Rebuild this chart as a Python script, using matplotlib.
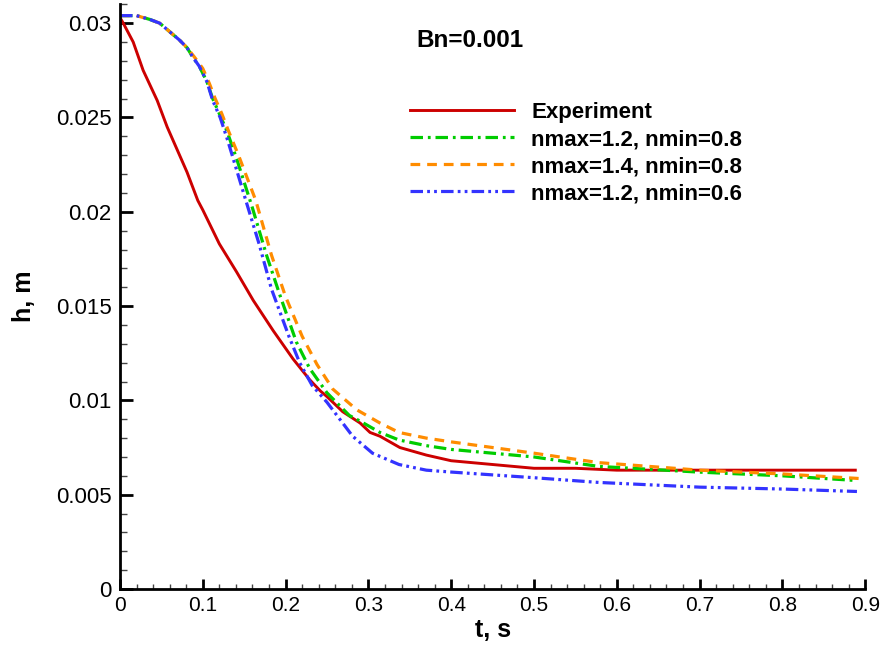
import matplotlib
matplotlib.use('Agg')
import matplotlib.pyplot as plt
from matplotlib.ticker import MultipleLocator

plt.rcParams['font.family'] = ['Liberation Sans', 'DejaVu Sans']
plt.rcParams['lines.scale_dashes'] = False

# Experiment
t_exp = [0, 0.004, 0.016, 0.028, 0.045, 0.057, 0.069, 0.081, 0.094, 0.1, 0.12, 0.141, 0.161,
         0.185, 0.209, 0.229, 0.242, 0.25, 0.269, 0.29, 0.302, 0.314, 0.338, 0.37, 0.4, 0.45,
         0.5, 0.55, 0.6, 0.65, 0.7, 0.75, 0.8, 0.85, 0.888]
h_exp = [0.0303, 0.0300, 0.0290, 0.0275, 0.0259, 0.0245, 0.0233, 0.0221, 0.0206, 0.0201, 0.0183,
         0.0168, 0.0153, 0.0137, 0.0122, 0.0111, 0.0105, 0.0102, 0.0094, 0.0088, 0.0083, 0.0081,
         0.0075, 0.0071, 0.0068, 0.0066, 0.0064, 0.0064, 0.0063, 0.0063, 0.0063, 0.0063, 0.0063,
         0.0063, 0.0063]

# nmax=1.2, nmin=0.8
t_g = [0, 0.02, 0.036, 0.048, 0.064, 0.072, 0.081, 0.088, 0.096, 0.105, 0.112, 0.121, 0.129,
       0.141, 0.16, 0.177, 0.193, 0.213, 0.229, 0.25, 0.277, 0.29, 0.314, 0.337, 0.37, 0.4,
       0.45, 0.5, 0.578, 0.698, 0.8, 0.89]
h_g = [0.0304, 0.0304, 0.0302, 0.0300, 0.0294, 0.0291, 0.0287, 0.0282, 0.0277, 0.0269, 0.0260,
       0.0251, 0.0243, 0.0228, 0.0202, 0.0177, 0.0156, 0.0131, 0.0117, 0.0104, 0.0092, 0.0089,
       0.0083, 0.0079, 0.0076, 0.0074, 0.0072, 0.0070, 0.0065, 0.0062, 0.0060, 0.00575]

# nmax=1.4, nmin=0.8
t_o = [0, 0.02, 0.036, 0.048, 0.064, 0.072, 0.081, 0.09, 0.1, 0.108, 0.115, 0.123, 0.13, 0.144,
       0.164, 0.183, 0.2, 0.22, 0.238, 0.257, 0.286, 0.314, 0.337, 0.37, 0.4, 0.45, 0.5, 0.578,
       0.7, 0.8, 0.892]
h_o = [0.0304, 0.0304, 0.0302, 0.0300, 0.0294, 0.0291, 0.0287, 0.0282, 0.0276, 0.0268, 0.0260,
       0.0252, 0.0244, 0.0229, 0.0206, 0.0177, 0.0155, 0.0134, 0.0119, 0.0106, 0.0095, 0.0088,
       0.0083, 0.0080, 0.0078, 0.0075, 0.0072, 0.0067, 0.0063, 0.0061, 0.00586]

# nmax=1.2, nmin=0.6
t_b = [0, 0.02, 0.036, 0.048, 0.064, 0.072, 0.081, 0.088, 0.096, 0.105, 0.112, 0.121, 0.13,
       0.152, 0.168, 0.183, 0.204, 0.217, 0.232, 0.25, 0.281, 0.305, 0.337, 0.37, 0.4, 0.5,
       0.578, 0.7, 0.8, 0.89]
h_b = [0.0304, 0.0304, 0.0302, 0.0300, 0.0294, 0.0291, 0.0287, 0.0282, 0.0277, 0.0269, 0.0259,
       0.0250, 0.0238, 0.0206, 0.0183, 0.0159, 0.0134, 0.0120, 0.0108, 0.0099, 0.0081, 0.0072,
       0.0066, 0.0063, 0.0062, 0.0059, 0.00565, 0.0054, 0.0053, 0.00517]

fig = plt.figure(figsize=(8.82, 6.54), dpi=100)
ax = fig.add_axes([0.136, 0.0994, 0.845, 0.894])

ax.plot(t_exp, h_exp, color='#cc0000', lw=2.1, label='Experiment')
ax.plot(t_g, h_g, color='#00cc00', lw=2.3, dashes=(9, 3.5, 2, 3.5), label='nmax=1.2, nmin=0.8')
ax.plot(t_o, h_o, color='#ff8c00', lw=2.3, dashes=(7, 5), label='nmax=1.4, nmin=0.8')
ax.plot(t_b, h_b, color='#3333ff', lw=2.3, dashes=(9, 3, 2, 3, 2, 3), label='nmax=1.2, nmin=0.6')

ax.set_xlim(0, 0.9)
ax.set_ylim(0, 0.031)
ax.xaxis.set_minor_locator(MultipleLocator(0.02))
ax.yaxis.set_minor_locator(MultipleLocator(0.001))
ax.set_xticks([0, 0.1, 0.2, 0.3, 0.4, 0.5, 0.6, 0.7, 0.8, 0.9])
ax.set_xticklabels(['0', '0.1', '0.2', '0.3', '0.4', '0.5', '0.6', '0.7', '0.8', '0.9'])
ax.set_yticks([0, 0.005, 0.01, 0.015, 0.02, 0.025, 0.03])
ax.set_yticklabels(['0', '0.005', '0.01', '0.015', '0.02', '0.025', '0.03'])

ax.spines['top'].set_visible(False)
ax.spines['right'].set_visible(False)
ax.spines['left'].set_linewidth(2)
ax.spines['bottom'].set_linewidth(2)
ax.tick_params(axis='x', which='major', direction='in', length=7.5, width=2, labelsize=15, pad=5)
ax.tick_params(axis='x', which='minor', direction='in', length=3.6, width=1, color='#444444')
ax.tick_params(axis='y', which='major', direction='in', length=9.5, width=2, labelsize=16, pad=6)
ax.tick_params(axis='y', which='minor', direction='in', length=5, width=1, color='#444444')

ax.set_xlabel('t, s', fontsize=18, fontweight='bold', labelpad=2)
ax.set_ylabel('h, m', fontsize=18, fontweight='bold', labelpad=14)

ax.text(0.472, 0.938, 'Bn=0.001', transform=fig.transFigure, fontsize=17.5,
        fontweight='bold', ha='left', va='center')

leg = ax.legend(loc='upper left', bbox_to_anchor=(0.452, 0.861), bbox_transform=fig.transFigure,
                frameon=False, handlelength=4.7, handletextpad=0.77, labelspacing=0.27,
                prop={'size': 16, 'weight': 'bold'}, borderpad=0)

fig.savefig('out.png', dpi=100)
